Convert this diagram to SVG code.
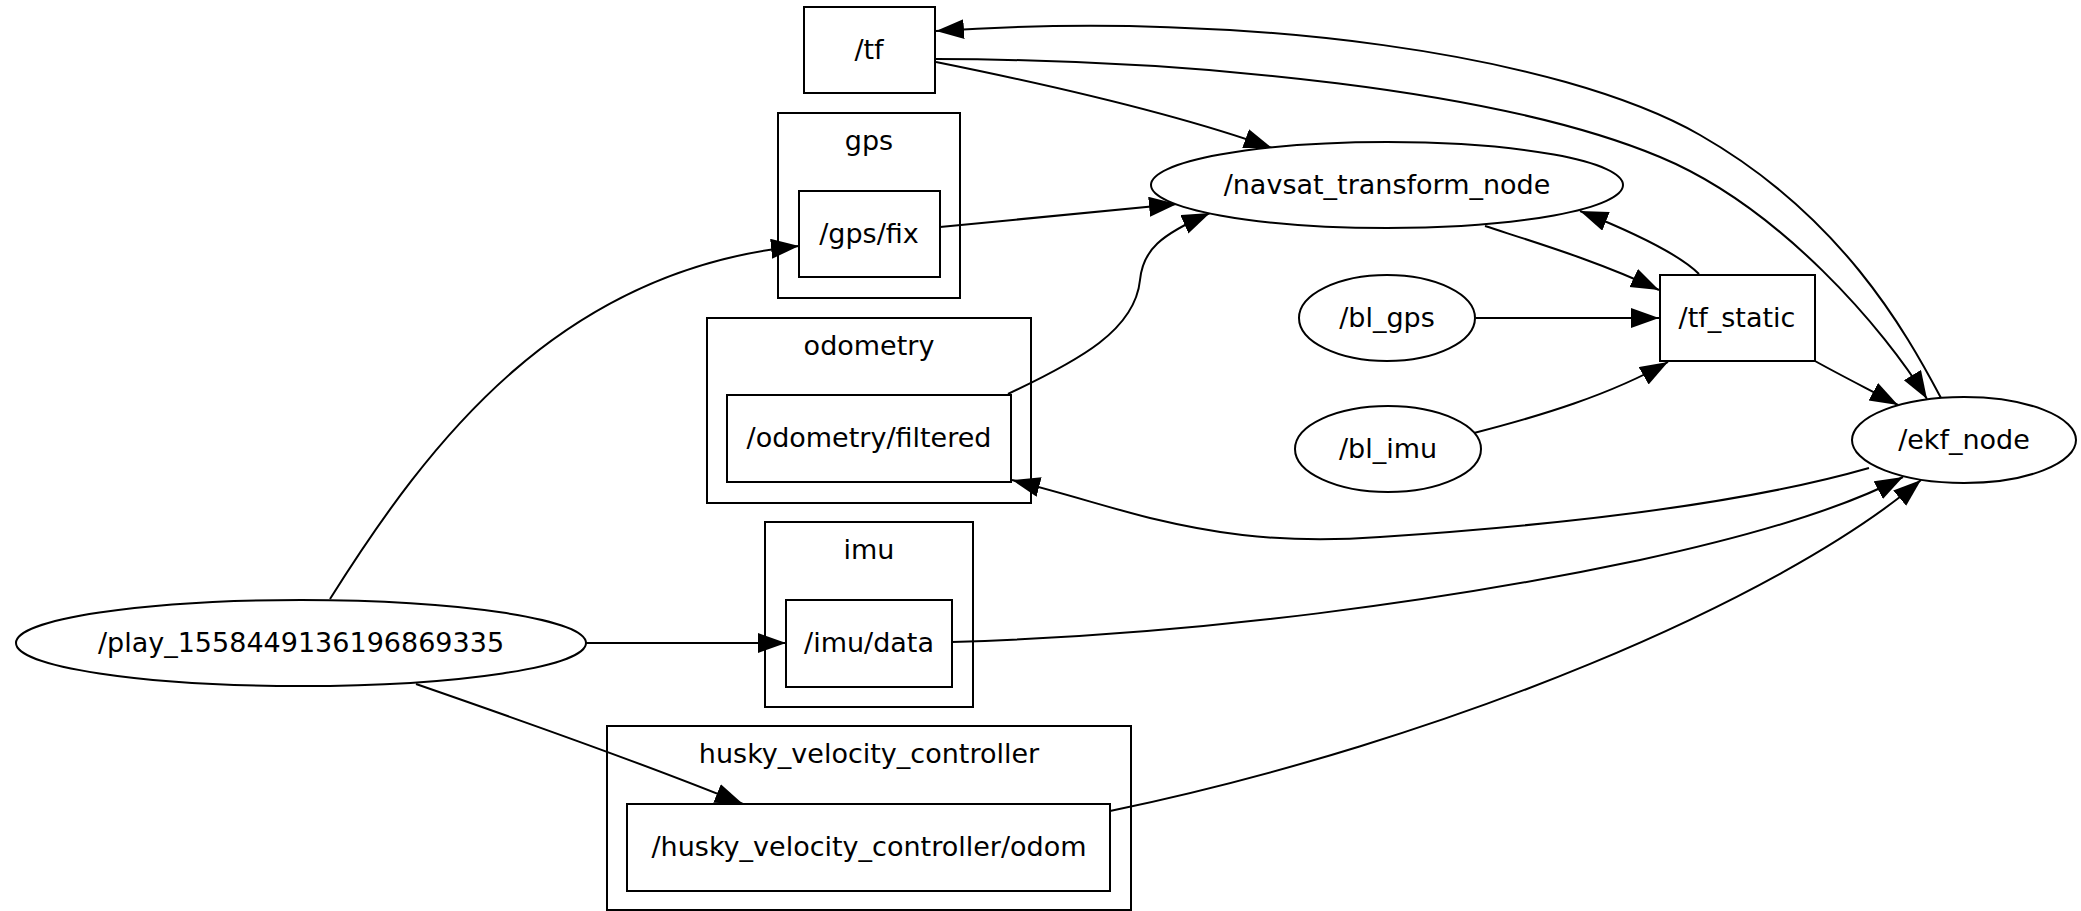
<svg xmlns="http://www.w3.org/2000/svg" width="2081" height="911" viewBox="0 0 2081 911">
  <style>
    .shape { fill: #ffffff; stroke: #000000; stroke-width: 2; }
    .cluster { fill: none; stroke: #000000; stroke-width: 2; }
    .label { font-family: "DejaVu Sans", "Liberation Sans", sans-serif; font-size: 27px; fill: #000000; text-anchor: middle; }
    .edge { fill: none; stroke: #000000; stroke-width: 2; marker-end: url(#arrow); }
  </style>
  <defs>
    <marker id="arrow" markerUnits="userSpaceOnUse" markerWidth="30" markerHeight="22" refX="28" refY="10" orient="auto">
      <path d="M0,0 L28,10 L0,20 Z" fill="#000000"/>
    </marker>
  </defs>
  <rect x="0" y="0" width="2081" height="911" fill="#ffffff"/>

  <!-- topic namespaces -->
  <g id="cluster_gps">
    <rect class="cluster" x="778" y="113" width="182" height="185"/>
    <text class="label" x="869" y="150">gps</text>
  </g>
  <g id="cluster_odometry">
    <rect class="cluster" x="707" y="318" width="324" height="185"/>
    <text class="label" x="869" y="355">odometry</text>
  </g>
  <g id="cluster_imu">
    <rect class="cluster" x="765" y="522" width="208" height="185"/>
    <text class="label" x="869" y="559">imu</text>
  </g>
  <g id="cluster_husky">
    <rect class="cluster" x="607" y="726" width="524" height="184"/>
    <text class="label" x="869" y="763">husky_velocity_controller</text>
  </g>

  <!-- connectors -->
  <g id="edges">
    <path class="edge" d="M330,599 C430,440 560,270 799,246"/>
    <path class="edge" d="M586,643 L786,643"/>
    <path class="edge" d="M416,684 C520,720 640,762 743,804"/>
    <path class="edge" d="M940,227 L1177,204"/>
    <path class="edge" d="M1008,394 C1080,360 1135,330 1140,280 C1143,250 1160,235 1210,213"/>
    <path class="edge" d="M936,62 C1050,85 1180,115 1272,148"/>
    <path class="edge" d="M936,59 C1200,60 1500,90 1660,157 C1780,207 1885,330 1927,399"/>
    <path class="edge" d="M1941,398 C1905,330 1840,215 1700,135 C1560,55 1250,10 936,31"/>
    <path class="edge" d="M1485,226 C1540,244 1600,262 1659,290"/>
    <path class="edge" d="M1699,274 C1680,255 1640,235 1580,211"/>
    <path class="edge" d="M1476,318 L1659,318"/>
    <path class="edge" d="M1474,433 C1540,416 1610,395 1668,362"/>
    <path class="edge" d="M1815,361 C1840,375 1870,390 1898,405"/>
    <path class="edge" d="M1869,468 C1740,505 1560,525 1380,537 C1270,545 1200,530 1150,518 C1110,508 1070,495 1012,480"/>
    <path class="edge" d="M952,642 C1200,635 1450,600 1640,560 C1760,534 1850,505 1903,477"/>
    <path class="edge" d="M1110,811 C1450,740 1780,600 1921,480"/>
  </g>

  <!-- nodes -->
  <g id="node_tf">
    <rect class="shape" x="804" y="7" width="131" height="86"/>
    <text class="label" x="869" y="59">/tf</text>
  </g>
  <g id="node_gps_fix">
    <rect class="shape" x="799" y="191" width="141" height="86"/>
    <text class="label" x="869" y="243">/gps/fix</text>
  </g>
  <g id="node_odometry_filtered">
    <rect class="shape" x="727" y="395" width="284" height="87"/>
    <text class="label" x="869" y="447">/odometry/filtered</text>
  </g>
  <g id="node_imu_data">
    <rect class="shape" x="786" y="600" width="166" height="87"/>
    <text class="label" x="869" y="652">/imu/data</text>
  </g>
  <g id="node_husky_odom">
    <rect class="shape" x="627" y="804" width="483" height="87"/>
    <text class="label" x="869" y="856">/husky_velocity_controller/odom</text>
  </g>
  <g id="node_play">
    <ellipse class="shape" cx="301" cy="643" rx="285" ry="43"/>
    <text class="label" x="301" y="652">/play_1558449136196869335</text>
  </g>
  <g id="node_navsat">
    <ellipse class="shape" cx="1387" cy="185" rx="236" ry="43"/>
    <text class="label" x="1387" y="194">/navsat_transform_node</text>
  </g>
  <g id="node_bl_gps">
    <ellipse class="shape" cx="1387" cy="318" rx="88" ry="43"/>
    <text class="label" x="1387" y="327">/bl_gps</text>
  </g>
  <g id="node_tf_static">
    <rect class="shape" x="1660" y="275" width="155" height="86"/>
    <text class="label" x="1737" y="327">/tf_static</text>
  </g>
  <g id="node_bl_imu">
    <ellipse class="shape" cx="1388" cy="449" rx="93" ry="43"/>
    <text class="label" x="1388" y="458">/bl_imu</text>
  </g>
  <g id="node_ekf">
    <ellipse class="shape" cx="1964" cy="440" rx="112" ry="43"/>
    <text class="label" x="1964" y="449">/ekf_node</text>
  </g>
</svg>
